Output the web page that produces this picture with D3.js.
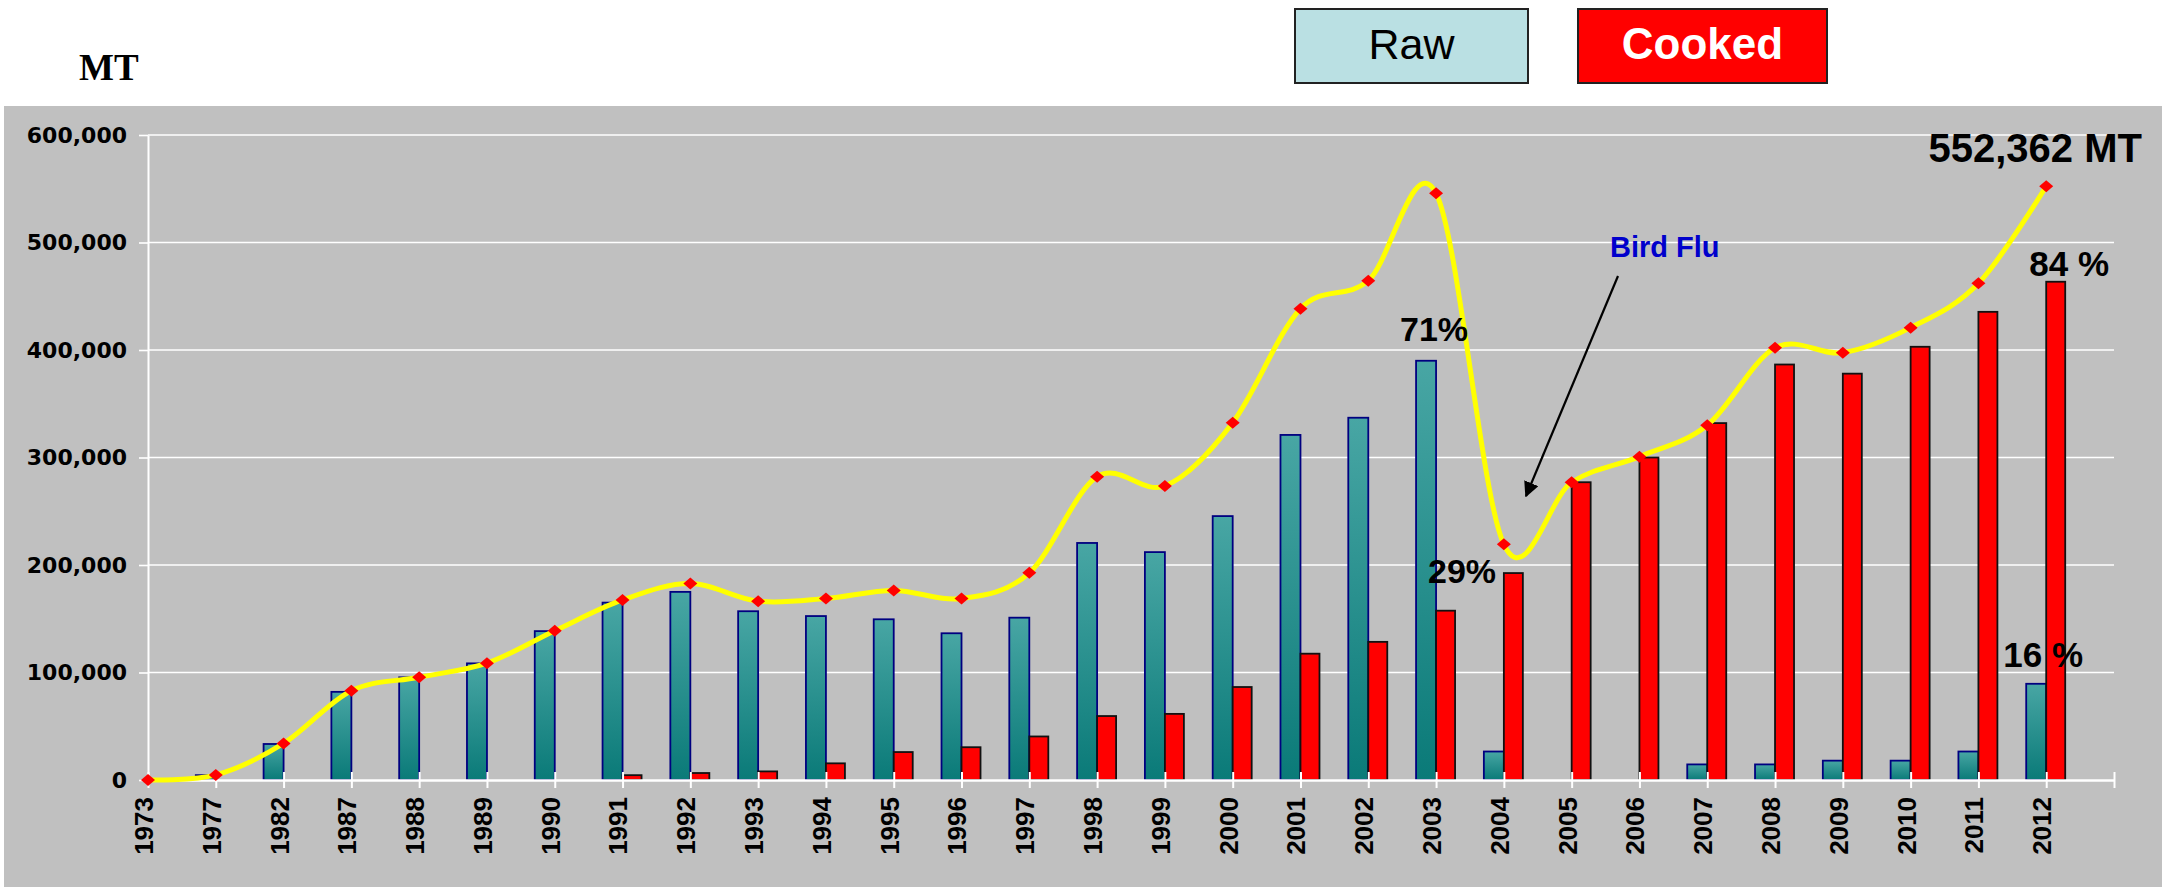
<!DOCTYPE html>
<html>
<head>
<meta charset="utf-8">
<script src="https://cdn.jsdelivr.net/npm/d3@7"></script>
<style>
  body { margin: 0; background: #fff; }
  svg { display: block; font-family: "Liberation Sans", Arial, sans-serif; }
</style>
</head>
<body>
<div id="chart"></div>
<script>
// categories (years) as printed on the x axis
const years = [
  "1973", "1977", "1982", "1987", "1988", "1989", "1990", "1991", "1992", "1993",
  "1994", "1995", "1996", "1997", "1998", "1999", "2000", "2001", "2002", "2003",
  "2004", "2005", "2006", "2007", "2008", "2009", "2010", "2011", "2012"
];

// MT
const rawValues = [
  0, 4500, 33500, 82000, 95500, 108500, 138500, 165000, 175000, 157000,
  152500, 149500, 136500, 151000, 220500, 212000, 245500, 321000, 337000, 390000,
  26500, 0, 0, 14500, 14500, 18000, 18000, 26500, 89500
];
const cookedValues = [
  0, 0, 0, 0, 0, 0, 0, 4500, 6500, 8000,
  15500, 26000, 30500, 40500, 59500, 61500, 86500, 117500, 128500, 157500,
  192500, 277000, 300000, 332000, 386500, 378000, 403000, 435500, 463500
];
const totalValues = [
  0, 4700, 34000, 83000, 95600, 108700, 138800, 167500, 182800, 166300,
  168800, 176300, 168800, 192700, 282200, 273500, 332400, 438400, 464500, 545700,
  219200, 277000, 300800, 330000, 402000, 397500, 420800, 462000, 552362
];

const yTicks = [0, 100000, 200000, 300000, 400000, 500000, 600000];

const width = 2165;
const height = 887;
const plot = { left: 148, right: 2114, top: 135, bottom: 780 };

const svg = d3.select("#chart")
  .append("svg")
  .attr("width", width)
  .attr("height", height);

svg.append("rect").attr("width", width).attr("height", height).attr("fill", "#fff");

// grey chart area
svg.append("rect")
  .attr("x", 4).attr("y", 106)
  .attr("width", 2158).attr("height", height - 106)
  .attr("fill", "#c0c0c0");

// one empty slot after 2012, the axis runs on past the last year
const x = d3.scalePoint()
  .domain([...years, ""])
  .range([plot.left, plot.right]);

const y = d3.scaleLinear()
  .domain([0, 600000])
  .range([plot.bottom, plot.top]);

const defs = svg.append("defs");

const grad = defs.append("linearGradient")
  .attr("id", "rawFill")
  .attr("x1", 0).attr("y1", 0).attr("x2", 0).attr("y2", 1);
grad.append("stop").attr("offset", "0%").attr("stop-color", "#48a6a4");
grad.append("stop").attr("offset", "100%").attr("stop-color", "#0a7a78");

defs.append("marker")
  .attr("id", "arrowHead")
  .attr("viewBox", "0 0 10 10")
  .attr("refX", 9).attr("refY", 5)
  .attr("markerWidth", 7).attr("markerHeight", 7)
  .attr("markerUnits", "strokeWidth")
  .attr("orient", "auto")
  .append("path")
  .attr("d", "M0,0 L10,5 L0,10 z")
  .attr("fill", "#000");

// gridlines
svg.append("g")
  .selectAll("line")
  .data(yTicks.filter((d) => d > 0))
  .join("line")
  .attr("x1", plot.left)
  .attr("x2", plot.right)
  .attr("y1", (d) => y(d))
  .attr("y2", (d) => y(d))
  .attr("stroke", "#fff")
  .attr("stroke-width", 1.6);

// y axis
svg.append("g")
  .attr("transform", `translate(${plot.left},0)`)
  .call(
    d3.axisLeft(y)
      .tickValues(yTicks)
      .tickFormat(d3.format(","))
      .tickSize(9)
      .tickSizeOuter(0)
      .tickPadding(12)
  )
  .call((g) => g.select(".domain").attr("stroke", "#fff").attr("stroke-width", 2))
  .call((g) => g.selectAll(".tick line").attr("stroke", "#fff").attr("stroke-width", 1.6))
  .call((g) =>
    g.selectAll(".tick text")
      .attr("fill", "#000")
      .attr("font-family", "'DejaVu Sans', Verdana, sans-serif")
      .attr("font-weight", "bold")
      .attr("font-size", 22)
  );

// bars
const barW = Math.round(x.step() * 0.29);
const rows = years.map((year, i) => ({
  year,
  raw: rawValues[i],
  cooked: cookedValues[i],
  total: totalValues[i],
}));

svg.append("g")
  .selectAll("rect")
  .data(rows.filter((d) => d.raw > 0))
  .join("rect")
  .attr("x", (d) => x(d.year) - barW)
  .attr("y", (d) => y(d.raw))
  .attr("width", barW)
  .attr("height", (d) => y(0) - y(d.raw))
  .attr("fill", "url(#rawFill)")
  .attr("stroke", "#000080")
  .attr("stroke-width", 1.8);

svg.append("g")
  .selectAll("rect")
  .data(rows.filter((d) => d.cooked > 0))
  .join("rect")
  .attr("x", (d) => x(d.year))
  .attr("y", (d) => y(d.cooked))
  .attr("width", barW - 1)
  .attr("height", (d) => y(0) - y(d.cooked))
  .attr("fill", "#ff0000")
  .attr("stroke", "#111")
  .attr("stroke-width", 1.8);

// x axis, ticks cross the line
svg.append("g")
  .attr("transform", `translate(0,${plot.bottom})`)
  .call(d3.axisBottom(x).tickSize(8).tickSizeOuter(0))
  .call((g) => g.select(".domain").attr("stroke", "#fff").attr("stroke-width", 2.4))
  .call((g) =>
    g.selectAll(".tick line")
      .attr("y1", -8)
      .attr("stroke", "#fff")
      .attr("stroke-width", 2)
  )
  .call((g) =>
    g.selectAll(".tick text")
      .attr("transform", "rotate(-90)")
      .attr("text-anchor", "end")
      .attr("x", -17)
      .attr("y", 0)
      .attr("dy", "0.17em")
      .attr("fill", "#000")
      .attr("font-family", "'Liberation Sans', Arial, sans-serif")
      .attr("font-weight", "bold")
      .attr("font-size", 26)
  );

// total line
const line = d3.line()
  .x((d) => x(d.year))
  .y((d) => y(d.total))
  .curve(d3.curveCardinal.tension(0));

svg.append("path")
  .datum(rows)
  .attr("d", line)
  .attr("fill", "none")
  .attr("stroke", "#ffff00")
  .attr("stroke-width", 5)
  .attr("stroke-linejoin", "round");

svg.append("g")
  .selectAll("path")
  .data(rows)
  .join("path")
  .attr("transform", (d) => `translate(${x(d.year)},${y(d.total)})`)
  .attr("d", "M0,-6 L7,0 L0,6 L-7,0 Z")
  .attr("fill", "#ff0000");

// legend boxes at the top
const legend = [
  { label: "Raw", x: 1295, w: 233, fill: "#bae0e3", color: "#000", weight: "normal", size: 43 },
  { label: "Cooked", x: 1578, w: 249, fill: "#ff0000", color: "#fff", weight: "bold", size: 44 },
];

const lg = svg.append("g")
  .selectAll("g")
  .data(legend)
  .join("g")
  .attr("transform", (d) => `translate(${d.x},9)`);

lg.append("rect")
  .attr("width", (d) => d.w)
  .attr("height", 74)
  .attr("fill", (d) => d.fill)
  .attr("stroke", "#222")
  .attr("stroke-width", 2);

lg.append("text")
  .attr("x", (d) => d.w / 2)
  .attr("y", 50)
  .attr("text-anchor", "middle")
  .attr("fill", (d) => d.color)
  .attr("font-weight", (d) => d.weight)
  .attr("font-size", (d) => d.size)
  .text((d) => d.label);

// unit label
svg.append("text")
  .attr("x", 79)
  .attr("y", 80)
  .attr("font-family", "'Liberation Serif', 'Times New Roman', serif")
  .attr("font-weight", "bold")
  .attr("font-size", 37)
  .text("MT");

// annotations
const notes = svg.append("g")
  .attr("font-weight", "bold")
  .attr("fill", "#000")
  .attr("text-anchor", "middle");

const i2003 = years.indexOf("2003");
const i2012 = years.indexOf("2012");

notes.append("text")
  .attr("x", x("2003") - 2)
  .attr("y", y(rawValues[i2003]) - 20)
  .attr("font-size", 34)
  .text("71%");

notes.append("text")
  .attr("x", x("2003") + 26)
  .attr("y", y(cookedValues[i2003]) - 28)
  .attr("font-size", 34)
  .text("29%");

notes.append("text")
  .attr("x", x("2012") + 23)
  .attr("y", y(cookedValues[i2012]) - 6)
  .attr("font-size", 35)
  .text("84 %");

notes.append("text")
  .attr("x", x("2012") - 3)
  .attr("y", y(rawValues[i2012]) - 17)
  .attr("font-size", 35)
  .text("16 %");

notes.append("text")
  .attr("x", x("2012") - 11)
  .attr("y", y(totalValues[i2012]) - 24)
  .attr("font-size", 40)
  .text("552,362 MT");

svg.append("text")
  .attr("x", 1610)
  .attr("y", 257)
  .attr("font-weight", "bold")
  .attr("font-size", 29)
  .attr("fill", "#0000cc")
  .text("Bird Flu");

svg.append("line")
  .attr("x1", 1618).attr("y1", 276)
  .attr("x2", 1526).attr("y2", 496)
  .attr("stroke", "#000")
  .attr("stroke-width", 2.2)
  .attr("marker-end", "url(#arrowHead)");
</script>
</body>
</html>
